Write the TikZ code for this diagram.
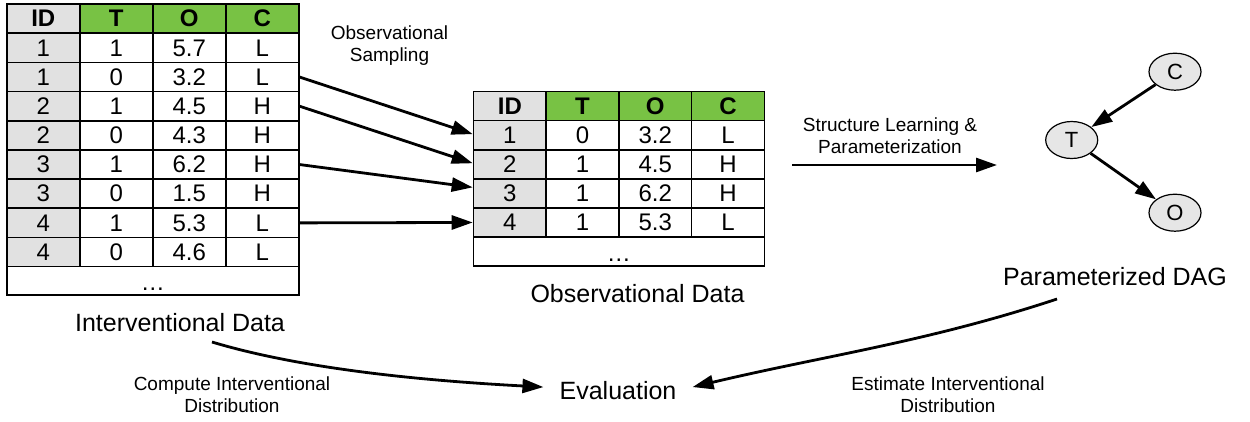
\documentclass[tikz,border=0pt]{standalone}
\usepackage{fontspec}
\setmainfont{Liberation Sans}
\usetikzlibrary{arrows.meta,shapes.geometric}
\definecolor{hdrgreen}{RGB}{120,194,68}
\definecolor{idgray}{RGB}{225,225,225}
\definecolor{nodegray}{RGB}{230,230,230}
\tikzset{
  cell/.style={draw, line width=1.6pt, minimum width=73pt, minimum height=29.2pt, inner sep=0pt,
    anchor=north west, font=\fontsize{24}{28}\selectfont},
  idcell/.style={cell, fill=idgray},
  plaincell/.style={cell, fill=white},
  hdrcell/.style={cell, fill=hdrgreen, font=\fontsize{24}{28}\selectfont\bfseries},
  idhdr/.style={cell, fill=idgray, font=\fontsize{24}{28}\selectfont\bfseries},
  biglabel/.style={inner sep=0pt, font=\fontsize{25}{30}\selectfont},
  smalllabel/.style={inner sep=0pt, align=center, font=\fontsize{19}{22}\selectfont},
  dagnode/.style={ellipse, draw, line width=1.2pt, fill=nodegray, minimum width=52pt, minimum height=37pt,
    inner sep=0pt, font=\fontsize{22}{26}\selectfont},
  flow/.style={line width=2.8pt, -{Triangle[length=21pt,width=14pt]}}
}
\begin{document}
\begin{tikzpicture}[x=1pt,y=-1pt]
\useasboundingbox (0,0) rectangle (1250,421);

% ---------- Interventional data table ----------
\node[idhdr] (L01) at (6,3.3) {ID};
\node[hdrcell] (L02) at (79,3.3) {T};
\node[hdrcell] (L03) at (152,3.3) {O};
\node[hdrcell] (L04) at (225,3.3) {C};
\foreach \id/\t/\o/\c [count=\r] in {1/1/5.7/L, 1/0/3.2/L, 2/1/4.5/H, 2/0/4.3/H, 3/1/6.2/H, 3/0/1.5/H, 4/1/5.3/L, 4/0/4.6/L} {
  \node[idcell] (L\r1) at (6, {3.3+29.17*\r}) {\id};
  \node[plaincell] (L\r2) at (79, {3.3+29.17*\r}) {\t};
  \node[plaincell] (L\r3) at (152, {3.3+29.17*\r}) {\o};
  \node[plaincell] (L\r4) at (225, {3.3+29.17*\r}) {\c};
}
\node[plaincell, minimum width=292pt, minimum height=28.6pt] (Ldots) at (6, {3.3+29.17*9}) {\strut\raisebox{-4pt}{…}};

% ---------- Observational data table ----------
\node[idhdr, minimum width=72.7pt] (M01) at (472.7,90.7) {ID};
\node[hdrcell, minimum width=72.7pt] (M02) at (545.4,90.7) {T};
\node[hdrcell, minimum width=72.7pt] (M03) at (618.1,90.7) {O};
\node[hdrcell, minimum width=72.7pt] (M04) at (690.8,90.7) {C};
\foreach \id/\t/\o/\c [count=\r] in {1/0/3.2/L, 2/1/4.5/H, 3/1/6.2/H, 4/1/5.3/L} {
  \node[idcell, minimum width=72.7pt, minimum height=29.1pt] (M\r1) at (472.7, {90.7+29.1*\r}) {\id};
  \node[plaincell, minimum width=72.7pt, minimum height=29.1pt] (M\r2) at (545.4, {90.7+29.1*\r}) {\t};
  \node[plaincell, minimum width=72.7pt, minimum height=29.1pt] (M\r3) at (618.1, {90.7+29.1*\r}) {\o};
  \node[plaincell, minimum width=72.7pt, minimum height=29.1pt] (M\r4) at (690.8, {90.7+29.1*\r}) {\c};
}
\node[plaincell, minimum width=290.8pt, minimum height=29pt] (Mdots) at (472.7, {90.7+29.1*5}) {\strut\raisebox{-4pt}{…}};

% ---------- sampling arrows ----------
\draw[flow] (L24.east) -- ([yshift=1pt]M11.west);
\draw[flow] (L34.east) -- ([yshift=1pt]M21.west);
\draw[flow] (L54.east) -- ([yshift=6pt]M31.west);
\draw[flow] (L74.east) -- (M41.west);

\node[smalllabel] (samp) at (389.5,46) {Observational\\Sampling};

% ---------- DAG ----------
\node[dagnode] (C) at (1175,71.7) {C};
\node[dagnode] (T) at (1071.7,140) {T};
\node[dagnode] (O) at (1175,212.7) {O};
\draw[flow] (C) -- (T);
\draw[flow] (T) -- (O);

\coordinate (sls) at (792,165);
\coordinate (sle) at (997,165);
\draw[flow] (sls) -- (sle);
\node[smalllabel] (slab) at (890,136) {Structure Learning \&\\Parameterization};

% ---------- labels ----------
\node[biglabel, anchor=base] (intlab) at (180,331) {Interventional Data};
\node[biglabel, anchor=base] (obslab) at (637.5,302) {Observational Data};
\node[biglabel, anchor=base] (daglab) at (1115,285) {Parameterized DAG};
\node[biglabel, anchor=base, inner xsep=16pt] (eval) at (618,399) {Evaluation};

% ---------- evaluation arrows ----------
\coordinate (cis) at (212,342);
\coordinate (eis) at (1057,299);
\draw[flow] (cis) .. controls (305,370) and (430,381) .. ([yshift=3pt]eval.west);
\draw[flow] (eis) .. controls (927,342) and (823,356) .. ([yshift=3pt]eval.east);

\node[smalllabel] (cilab) at (232,395) {Compute Interventional\\Distribution};
\node[smalllabel] (eilab) at (948,395) {Estimate Interventional\\Distribution};
\end{tikzpicture}
\end{document}
